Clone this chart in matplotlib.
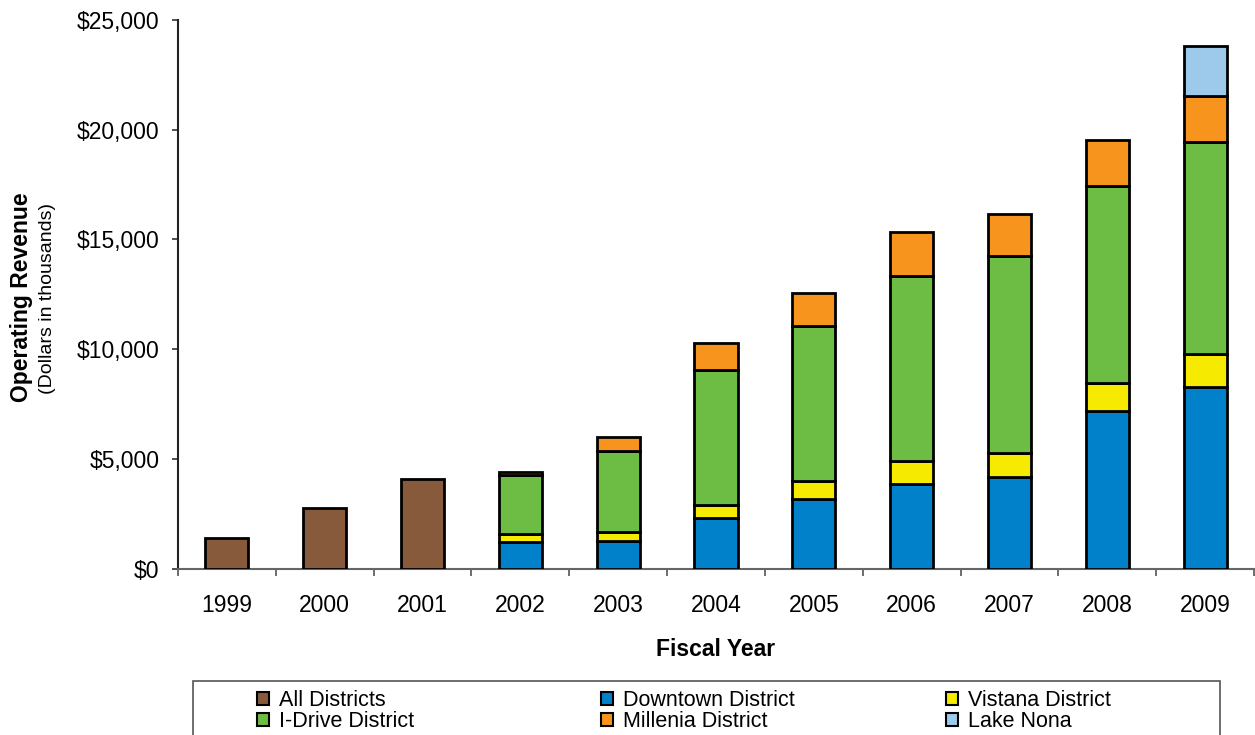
import numpy as np
import matplotlib
matplotlib.use("Agg")
import matplotlib.pyplot as plt
from matplotlib.patches import Rectangle, Patch
from matplotlib.ticker import FuncFormatter, FixedLocator

plt.rcParams['font.family'] = ['Liberation Sans', 'DejaVu Sans']

years = ["1999", "2000", "2001", "2002", "2003", "2004", "2005", "2006", "2007", "2008", "2009"]
all_districts = [1370, 2780, 4070, 0, 0, 0, 0, 0, 0, 0, 0]
downtown = [0, 0, 0, 1200, 1260, 2280, 3160, 3870, 4180, 7180, 8290]
vistana = [0, 0, 0, 360, 410, 610, 820, 1020, 1100, 1290, 1470]
idrive = [0, 0, 0, 2690, 3690, 6180, 7090, 8460, 8980, 8980, 9670]
millenia = [0, 0, 0, 150, 640, 1190, 1500, 2000, 1880, 2080, 2120]
lake_nona = [0, 0, 0, 0, 0, 0, 0, 0, 0, 0, 2280]

series_names = ["All Districts", "Downtown District", "Vistana District",
                "I-Drive District", "Millenia District", "Lake Nona"]
series_values = [all_districts, downtown, vistana, idrive, millenia, lake_nona]
colors = ["#875A3B", "#0081C9", "#F5EA00", "#6DBD45", "#F7941E", "#9DC9EB"]

W, H = 1255, 735
fig = plt.figure(figsize=(W / 100, H / 100), dpi=100)
ax_left, ax_right, ax_top, ax_bottom = 178, 1254, 20, 568.5
ax = fig.add_axes([ax_left / W, 1 - ax_bottom / H, (ax_right - ax_left) / W, (ax_bottom - ax_top) / H])

x = np.arange(len(years))
bottom = np.zeros(len(years))
for name, vals, col in zip(series_names, series_values, colors):
    vals = np.array(vals, dtype=float)
    idx = vals > 0
    ax.bar(x[idx], vals[idx], bottom=bottom[idx], width=0.44, color=col,
           edgecolor="black", linewidth=2.0, zorder=3)
    bottom += vals

ax.set_xlim(-0.5, len(years) - 0.5)
ax.set_ylim(0, 25000)
ax.set_yticks(np.arange(0, 25001, 5000))
ax.yaxis.set_major_formatter(FuncFormatter(lambda v, p: "${:,.0f}".format(v)))
ax.set_xticks(x)
ax.set_xticklabels(years)
ax.xaxis.set_minor_locator(FixedLocator(np.arange(-0.5, len(years) - 0.4, 1.0)))

ax.tick_params(axis="y", which="major", direction="out", length=4.3, width=1.2,
               color="#333333", labelsize=16.5, pad=9)
ax.tick_params(axis="x", which="major", length=0, labelsize=16.5, pad=18)
ax.tick_params(axis="x", which="minor", direction="out", length=5, width=1.2, color="#555555")

for s in ["top", "right"]:
    ax.spines[s].set_visible(False)
ax.spines["left"].set_color("#222222")
ax.spines["left"].set_linewidth(1.5)
ax.spines["bottom"].set_color("#666666")
ax.spines["bottom"].set_linewidth(1.5)

fig.text(715.5 / W, 1 - 650 / H, "Fiscal Year", ha="center", va="center",
         fontsize=16.5, fontweight="bold")
fig.text(22 / W, 1 - 297 / H, "Operating Revenue", ha="center", va="center",
         rotation=90, fontsize=16.5, fontweight="bold")
fig.text(48 / W, 1 - 298 / H, "(Dollars in thousands)", ha="center", va="center",
         rotation=90, fontsize=14)

# legend frame
fig.add_artist(Rectangle((193 / W, -0.05), (1220 - 193) / W, (1 - 681 / H) + 0.05,
                         transform=fig.transFigure, facecolor="white",
                         edgecolor="#555555", linewidth=1.2, zorder=0))

handles = [Patch(facecolor=c, edgecolor="black", linewidth=1.5) for c in colors]
columns = [([0, 3], 257), ([1, 4], 601), ([2, 5], 946)]
for idxs, xpos in columns:
    leg = fig.legend([handles[i] for i in idxs], [series_names[i] for i in idxs],
                     loc="upper left", bbox_to_anchor=(xpos / W, 1 - 690 / H),
                     frameon=False, fontsize=15.5, borderpad=0, borderaxespad=0,
                     handlelength=0.55, handleheight=0.6, handletextpad=0.45,
                     labelspacing=0.0)

fig.savefig("out.png", dpi=100)
